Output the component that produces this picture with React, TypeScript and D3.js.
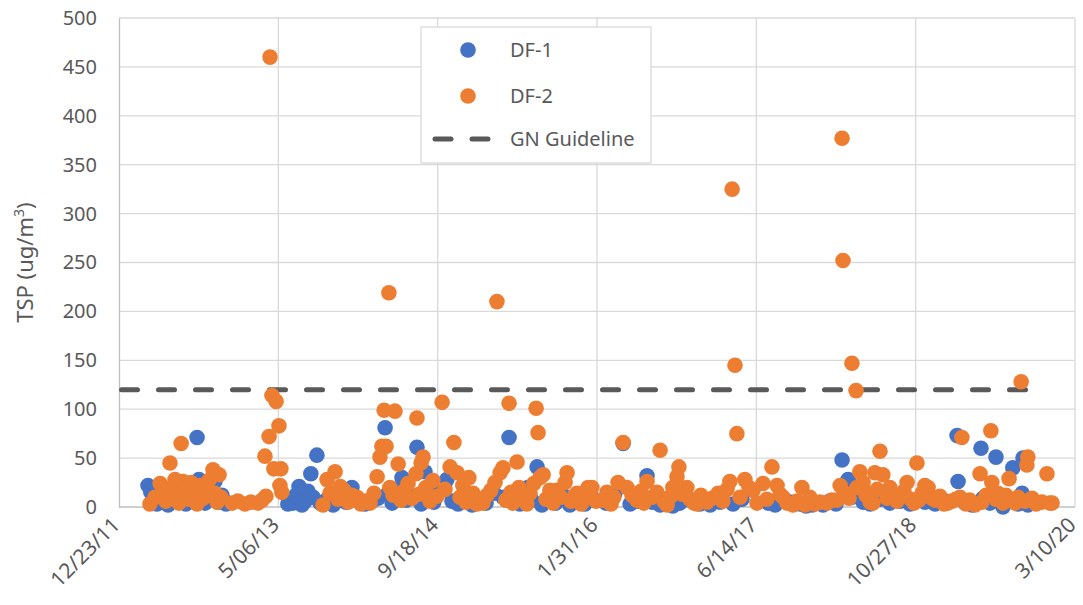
import React, { useEffect, useRef } from 'react';
import * as d3 from 'd3';

// Sample dates are Excel date serials, values are TSP in ug/m3
const df1: [number, number][] = [
  [40991, 22], [41000, 15], [41007, 8], [41013, 20], [41019, 3], [41026, 12], [41032, 5], [41038, 18],
  [41047, 9], [41054, 2], [41066, 14], [41076, 6], [41085, 24], [41098, 10], [41110, 3], [41123, 16],
  [41135, 8], [41145, 71], [41151, 28], [41160, 13], [41170, 4], [41182, 22], [41192, 9], [41201, 26],
  [41211, 5], [41223, 12], [41236, 3],
  [41430, 3], [41440, 8], [41446, 4], [41455, 12], [41465, 21], [41474, 2], [41484, 6], [41493, 16],
  [41502, 34], [41509, 10], [41521, 53], [41531, 4], [41550, 7], [41572, 2], [41594, 11], [41612, 5],
  [41631, 20], [41650, 8], [41672, 3], [41694, 6], [41713, 9], [41735, 81], [41744, 14], [41757, 4],
  [41772, 18], [41788, 30], [41801, 7], [41813, 12], [41835, 61], [41848, 3], [41860, 36], [41870, 9],
  [41888, 5], [41901, 15],
  [41929, 28], [41945, 6], [41964, 3], [41986, 12], [42008, 2], [42027, 8], [42052, 4], [42077, 14],
  [42105, 10], [42124, 71], [42136, 5], [42158, 3], [42183, 20], [42196, 7], [42212, 41], [42227, 2],
  [42249, 9], [42271, 4], [42293, 12], [42315, 2], [42340, 6], [42362, 3], [42384, 10],
  [42428, 4], [42447, 8], [42456, 14], [42482, 65], [42504, 3], [42529, 6], [42557, 32], [42573, 5],
  [42598, 2], [42623, 9], [42638, 1], [42660, 4], [42692, 7], [42723, 3], [42755, 2], [42786, 5],
  [42827, 3], [42855, 8],
  [42937, 4], [42959, 2], [43006, 5], [43037, 3], [43056, 1], [43075, 2], [43093, 4], [43109, 2],
  [43131, 6], [43150, 3], [43169, 48], [43188, 28], [43200, 10], [43216, 15], [43235, 5], [43257, 3],
  [43288, 8], [43319, 4], [43351, 6], [43382, 3],
  [43429, 5], [43461, 3], [43492, 6], [43530, 73], [43533, 26], [43555, 4], [43577, 2], [43605, 60],
  [43611, 9], [43633, 4], [43652, 51], [43674, 0], [43690, 6], [43705, 40], [43721, 3], [43734, 14],
  [43737, 50], [43752, 2], [43774, 5],
];

const df2: [number, number][] = [
  [40997, 3], [41013, 10], [41029, 24], [41038, 14], [41047, 6], [41060, 45], [41066, 20], [41076, 28],
  [41082, 12], [41088, 4], [41095, 65], [41101, 26], [41107, 17], [41117, 8], [41126, 25], [41135, 13],
  [41145, 3], [41154, 22], [41164, 9], [41173, 18], [41182, 27], [41189, 12], [41195, 38], [41201, 14],
  [41208, 5], [41214, 33], [41220, 10], [41255, 4], [41273, 6], [41295, 3], [41314, 5], [41336, 4],
  [41349, 7], [41358, 52], [41361, 11], [41371, 72], [41374, 460], [41380, 114], [41386, 39], [41393, 108],
  [41402, 83], [41405, 22], [41408, 39], [41411, 15],
  [41540, 2], [41553, 28], [41562, 14], [41578, 36], [41587, 8], [41594, 21], [41606, 17], [41619, 5],
  [41631, 12], [41647, 10], [41659, 3], [41672, 6], [41688, 4], [41700, 14], [41710, 31], [41719, 51],
  [41725, 62], [41732, 99], [41738, 62], [41747, 219], [41750, 20], [41760, 12], [41766, 98], [41776, 44],
  [41785, 7], [41794, 16], [41807, 24], [41819, 9], [41832, 34], [41835, 91], [41841, 13], [41848, 45],
  [41854, 51], [41863, 20], [41876, 6], [41885, 27], [41898, 11], [41914, 107], [41923, 18],
  [41939, 41], [41951, 66], [41961, 35], [41970, 10], [41979, 22], [41989, 5], [41998, 30], [42011, 14],
  [42023, 3], [42033, 8], [42042, 4], [42055, 12], [42067, 17], [42080, 25], [42086, 210], [42096, 35],
  [42105, 40], [42114, 7], [42124, 106], [42130, 15], [42136, 4], [42149, 46], [42155, 20], [42168, 9],
  [42180, 3], [42190, 14], [42202, 24], [42209, 101], [42215, 76], [42221, 30], [42231, 33], [42240, 8],
  [42252, 17], [42262, 4], [42274, 17], [42287, 10], [42300, 25], [42306, 35], [42318, 6], [42331, 12],
  [42337, 14], [42350, 3], [42362, 8], [42372, 20], [42384, 20], [42397, 6],
  [42419, 7], [42431, 15], [42444, 3], [42453, 10], [42466, 25], [42482, 66], [42494, 20], [42510, 12],
  [42525, 7], [42538, 16], [42547, 4], [42557, 26], [42573, 10], [42588, 15], [42598, 58], [42610, 6],
  [42620, 2], [42632, 11], [42638, 20], [42651, 31], [42657, 41], [42667, 13], [42682, 20], [42692, 8],
  [42704, 4], [42714, 3], [42726, 12], [42745, 5], [42761, 9], [42780, 14], [42795, 6], [42808, 18],
  [42817, 26], [42824, 325], [42833, 145], [42839, 75], [42849, 10], [42864, 28], [42877, 20], [42890, 17],
  [42902, 4],
  [42921, 24], [42933, 8], [42949, 41], [42965, 22], [42974, 13], [42984, 10], [42996, 4], [43015, 2],
  [43028, 6], [43043, 20], [43053, 2], [43068, 10], [43084, 3], [43100, 5], [43122, 4], [43137, 7],
  [43153, 7], [43163, 22], [43169, 377], [43172, 252], [43178, 14], [43191, 9], [43200, 147], [43213, 119],
  [43216, 20], [43225, 36], [43235, 25], [43244, 12], [43250, 14], [43257, 5], [43266, 4], [43272, 35],
  [43279, 18], [43288, 57], [43297, 33], [43310, 9], [43319, 20], [43332, 13], [43341, 6], [43351, 10],
  [43363, 16], [43373, 25], [43385, 8], [43395, 4], [43404, 45], [43410, 7],
  [43420, 14], [43429, 22], [43439, 20], [43451, 9], [43461, 7], [43476, 11], [43489, 3], [43501, 4],
  [43514, 6], [43526, 8], [43539, 10], [43545, 71], [43558, 3], [43570, 7], [43586, 2], [43602, 34],
  [43608, 5], [43621, 12], [43636, 78], [43639, 25], [43652, 8], [43658, 14], [43674, 4], [43683, 12],
  [43693, 29], [43702, 7], [43712, 4], [43721, 10], [43731, 128], [43743, 6], [43749, 43], [43752, 51],
  [43765, 9], [43778, 3], [43796, 5], [43812, 34], [43821, 4], [43828, 4],
];

// GN guideline line (start / end dates)
const guideline: [number, number][] = [[40900, 120], [43781, 120]];

const xTicks = [40900, 41400, 41900, 42400, 42900, 43400, 43900];
const yTicks = [0, 50, 100, 150, 200, 250, 300, 350, 400, 450, 500];
const seriesNames = ['DF-1', 'DF-2', 'GN Guideline'];
const seriesColors = ['#4472C4', '#ED7D31', '#595959'];

const toDate = (s: number) => new Date(Date.UTC(1899, 11, 30) + s * 864e5);

const App = () => {
  const svgRef = useRef<SVGSVGElement>(null);

  useEffect(() => {
    const width = 1083;
    const height = 605;
    const marginTop = 18;
    const marginRight = 8;
    const marginBottom = 98;
    const marginLeft = 119;
    const font = '"Noto Sans", sans-serif';
    const textColor = '#595959';
    const radius = 7.8;

    const x = d3.scaleUtc()
      .domain([toDate(xTicks[0]), toDate(xTicks[xTicks.length - 1])])
      .range([marginLeft, width - marginRight]);
    const y = d3.scaleLinear().domain([0, 500]).range([height - marginBottom, marginTop]);

    const svg = d3.select(svgRef.current);
    svg.selectAll('*').remove();

    svg.append('rect').attr('width', width).attr('height', height).attr('fill', '#fff');

    // grid lines
    svg.append('g')
      .selectAll('line')
      .data(yTicks.slice(1))
      .join('line')
      .attr('x1', marginLeft)
      .attr('x2', width - marginRight)
      .attr('y1', d => y(d))
      .attr('y2', d => y(d))
      .attr('stroke', '#d9d9d9')
      .attr('stroke-width', 1.3);
    svg.append('g')
      .selectAll('line')
      .data(xTicks.slice(1))
      .join('line')
      .attr('x1', d => x(toDate(d)))
      .attr('x2', d => x(toDate(d)))
      .attr('y1', marginTop)
      .attr('y2', height - marginBottom)
      .attr('stroke', '#d9d9d9')
      .attr('stroke-width', 1.3);

    // y axis
    svg.append('g')
      .attr('transform', `translate(${marginLeft},0)`)
      .call(d3.axisLeft(y).tickValues(yTicks).tickSize(0).tickPadding(22))
      .call(g => g.select('.domain').attr('stroke', '#bfbfbf').attr('stroke-width', 1.3))
      .call(g => g.selectAll('text')
        .attr('fill', textColor)
        .attr('font-size', 20)
        .attr('font-family', font));

    // x axis line and rotated labels
    svg.append('line')
      .attr('x1', marginLeft)
      .attr('x2', width - marginRight)
      .attr('y1', height - marginBottom)
      .attr('y2', height - marginBottom)
      .attr('stroke', '#bfbfbf')
      .attr('stroke-width', 1.3);

    const fmt = d3.utcFormat('%-m/%d/%y');
    svg.append('g')
      .selectAll('text')
      .data(xTicks)
      .join('text')
      .attr('transform', d => `translate(${x(toDate(d)) - 3},${height - marginBottom + 14}) rotate(-45)`)
      .attr('text-anchor', 'end')
      .attr('dy', '0.35em')
      .attr('fill', textColor)
      .attr('font-size', 21)
      .attr('font-family', font)
      .text(d => fmt(toDate(d)));

    // y axis title
    const title = svg.append('text')
      .attr('transform', `translate(33,${(marginTop + height - marginBottom) / 2}) rotate(-90)`)
      .attr('text-anchor', 'middle')
      .attr('fill', textColor)
      .attr('font-size', 22)
      .attr('font-family', font);
    title.append('tspan').text('TSP (ug/m');
    title.append('tspan').attr('font-size', 14).attr('dy', -9).text('3');
    title.append('tspan').attr('dy', 9).text(')');

    // guideline
    svg.append('path')
      .datum(guideline)
      .attr('fill', 'none')
      .attr('stroke', seriesColors[2])
      .attr('stroke-width', 5)
      .attr('stroke-linecap', 'round')
      .attr('stroke-dasharray', '16 21')
      .attr('d', d3.line<[number, number]>()
        .x(d => x(toDate(d[0])) + 2.5)
        .y(d => y(d[1])));

    // scatter series
    [df1, df2].forEach((series, i) => {
      svg.append('g')
        .selectAll('circle')
        .data(series)
        .join('circle')
        .attr('cx', d => x(toDate(d[0])))
        .attr('cy', d => y(d[1]))
        .attr('r', radius)
        .attr('fill', seriesColors[i]);
    });

    // legend
    const legend = svg.append('g');
    legend.append('rect')
      .attr('x', 421)
      .attr('y', 27)
      .attr('width', 230)
      .attr('height', 136)
      .attr('fill', '#fff')
      .attr('stroke', '#d9d9d9')
      .attr('stroke-width', 1.3);
    const rows = [50, 96, 139];
    seriesNames.forEach((name, i) => {
      if (i < 2) {
        legend.append('circle')
          .attr('cx', 468)
          .attr('cy', rows[i])
          .attr('r', radius)
          .attr('fill', seriesColors[i]);
      } else {
        legend.append('line')
          .attr('x1', 435)
          .attr('x2', 488)
          .attr('y1', rows[i])
          .attr('y2', rows[i])
          .attr('stroke', seriesColors[i])
          .attr('stroke-width', 5)
          .attr('stroke-linecap', 'round')
          .attr('stroke-dasharray', '16 21');
      }
      legend.append('text')
        .attr('x', 510)
        .attr('y', rows[i])
        .attr('dy', '0.35em')
        .attr('fill', textColor)
        .attr('font-size', 20)
        .attr('font-family', font)
        .text(name);
    });
  }, []);

  return (
    <svg
      ref={svgRef}
      width={1083}
      height={605}
      style={{ position: 'absolute', left: 0, top: 0, display: 'block' }}
    />
  );
};

export default App;
